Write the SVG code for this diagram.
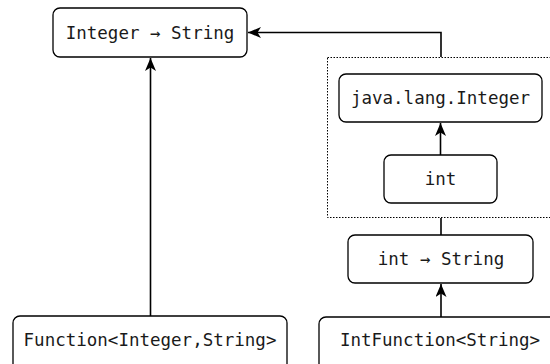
<svg xmlns="http://www.w3.org/2000/svg" width="550" height="364" viewBox="0 0 550 364">
  <style>
    .box { fill: #ffffff; stroke: #000000; stroke-width: 1.3; }
    .lbl { font-family: "DejaVu Sans Mono", "Liberation Mono", monospace; font-size: 17.5px; fill: #1a1a1a; text-anchor: middle; }
    .edge { fill: none; stroke: #000000; stroke-width: 1.6; }
    .group { fill: none; stroke: #000000; stroke-width: 1; stroke-dasharray: 1.5 1.5; }
  </style>
  <defs>
    <marker id="arrow" viewBox="0 0 13 11" markerWidth="13" markerHeight="11" refX="13" refY="5.5" orient="auto" markerUnits="userSpaceOnUse">
      <path d="M0,0 L13,5.5 L0,11 L3.5,5.5 Z" fill="#000000"/>
    </marker>
  </defs>
  <rect width="550" height="364" fill="#ffffff"/>

  <!-- boxed int / Integer pair -->
  <rect id="boxing-group" class="group" x="327.5" y="57.5" width="240" height="160"/>

  <g id="connectors">
    <path class="edge" d="M441,57 L441,32.5 L248,32.5" marker-end="url(#arrow)"/>
    <path class="edge" d="M150.5,316 L150.5,58" marker-end="url(#arrow)"/>
    <path class="edge" d="M440.5,155 L440.5,123" marker-end="url(#arrow)"/>
    <path class="edge" d="M441,218 L441,235"/>
    <path class="edge" d="M441,317 L441,284" marker-end="url(#arrow)"/>
  </g>

  <g id="integer-to-string">
    <rect class="box" x="53" y="8" width="194" height="49" rx="7"/>
    <text class="lbl" x="150" y="38.5">Integer → String</text>
  </g>
  <g id="java-lang-integer">
    <rect class="box" x="339" y="74" width="203" height="48" rx="7"/>
    <text class="lbl" x="440.5" y="104">java.lang.Integer</text>
  </g>
  <g id="int">
    <rect class="box" x="384" y="155" width="113" height="48" rx="7"/>
    <text class="lbl" x="440.5" y="185">int</text>
  </g>
  <g id="int-to-string">
    <rect class="box" x="348" y="235" width="185" height="48" rx="7"/>
    <text class="lbl" x="441" y="265">int → String</text>
  </g>
  <g id="function">
    <rect class="box" x="13" y="316" width="274" height="62" rx="7"/>
    <text class="lbl" x="150" y="346">Function&lt;Integer,String&gt;</text>
  </g>
  <g id="int-function">
    <rect class="box" x="319" y="317" width="245" height="62" rx="7"/>
    <text class="lbl" x="440" y="346">IntFunction&lt;String&gt;</text>
  </g>
</svg>
